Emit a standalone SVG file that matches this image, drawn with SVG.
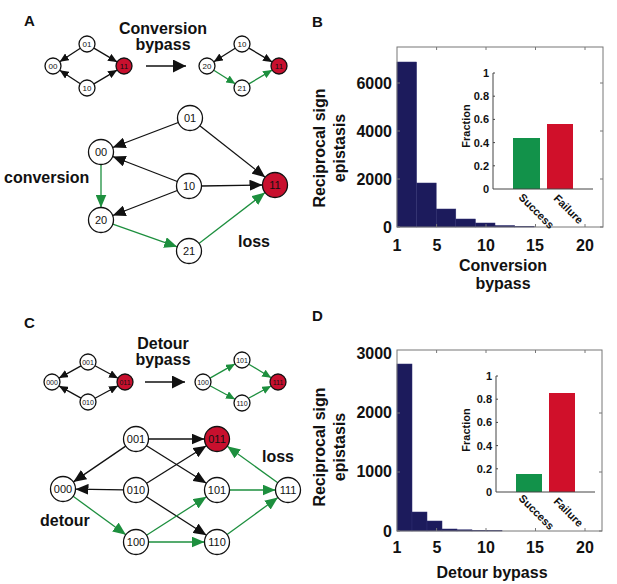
<svg xmlns="http://www.w3.org/2000/svg" width="617" height="584" viewBox="0 0 617 584">
<defs>
<style>
.node{fill:#fff;stroke:#111;stroke-width:1.3}
.red{fill:#c8102e;stroke:#111;stroke-width:1.3}
.nl{font-family:"Liberation Sans",Arial,sans-serif;font-size:11px;fill:#111;text-anchor:middle}
.ns{font-family:"Liberation Sans",Arial,sans-serif;font-size:8px;fill:#111;text-anchor:middle}
.b16{font-family:"Liberation Sans",Arial,sans-serif;font-size:16px;font-weight:bold;fill:#111}
.b15{font-family:"Liberation Sans",Arial,sans-serif;font-size:15px;font-weight:bold;fill:#111}
.b11{font-family:"Liberation Sans",Arial,sans-serif;font-size:11px;font-weight:bold;fill:#111}
.k{stroke:#111;stroke-width:1.3;fill:none}
.g{stroke:#1d8f3e;stroke-width:1.3;fill:none}
.kb{marker-end:url(#ak)}
.gb{marker-end:url(#ag)}
.ks{marker-end:url(#aks)}
.gs{marker-end:url(#ags)}
.bar{fill:#1c1b5c;stroke:#2f2f70;stroke-width:0.5}
.box{fill:none;stroke:#777;stroke-width:1}
.tick{stroke:#777;stroke-width:1}
.iax{stroke:#444;stroke-width:1;fill:none}
.mid{text-anchor:middle}
.end{text-anchor:end}
</style>
<marker id="ak" markerUnits="userSpaceOnUse" markerWidth="13" markerHeight="11" refX="13" refY="5.5" orient="auto"><path d="M0,0 L13,5.5 L0,11 z" fill="#111"/></marker>
<marker id="ag" markerUnits="userSpaceOnUse" markerWidth="13" markerHeight="11" refX="13" refY="5.5" orient="auto"><path d="M0,0 L13,5.5 L0,11 z" fill="#1d8f3e"/></marker>
<marker id="aks" markerUnits="userSpaceOnUse" markerWidth="9" markerHeight="8" refX="9" refY="4" orient="auto"><path d="M0,0 L9,4 L0,8 z" fill="#111"/></marker>
<marker id="ags" markerUnits="userSpaceOnUse" markerWidth="9" markerHeight="8" refX="9" refY="4" orient="auto"><path d="M0,0 L9,4 L0,8 z" fill="#1d8f3e"/></marker>
<marker id="abig" markerUnits="userSpaceOnUse" markerWidth="13" markerHeight="13" refX="13" refY="6.5" orient="auto"><path d="M0,0 L13,6.5 L0,13 z" fill="#111"/></marker>
</defs>
<rect width="617" height="584" fill="#fff"/>

<!-- Panel labels -->
<text class="b15" x="24" y="26">A</text>
<text class="b15" x="312" y="27">B</text>
<text class="b15" x="24" y="328">C</text>
<text class="b15" x="312" y="321">D</text>

<!-- ============ Panel A ============ -->
<g id="connectors-A">
<line class="k ks" x1="80.3" y1="48.3" x2="59.7" y2="61.7"/>
<line class="k ks" x1="80.3" y1="83.7" x2="59.7" y2="70.3"/>
<line class="k ks" x1="93.9" y1="48.1" x2="117.1" y2="61.9"/>
<line class="k ks" x1="93.9" y1="83.9" x2="117.1" y2="70.1"/>
<line class="k" style="stroke-width:1.6;marker-end:url(#abig)" x1="146" y1="66" x2="186" y2="66"/>
<line class="k ks" x1="235.2" y1="48.3" x2="213.8" y2="61.7"/>
<line class="k ks" x1="248.9" y1="48.1" x2="272.1" y2="61.9"/>
<line class="g gs" x1="213.8" y1="70.3" x2="235.2" y2="83.7"/>
<line class="g gs" x1="248.9" y1="83.9" x2="272.1" y2="70.1"/>
<line class="k kb" x1="178.3" y1="122.5" x2="112.7" y2="147.5"/>
<line class="k kb" x1="199.8" y1="125.7" x2="265.2" y2="177.3"/>
<line class="k kb" x1="177.3" y1="181.5" x2="112.7" y2="156.5"/>
<line class="k kb" x1="177.3" y1="190.5" x2="112.7" y2="215.5"/>
<line class="k kb" x1="201.5" y1="186" x2="262.5" y2="185"/>
<line class="g gb" x1="101" y1="164.5" x2="101" y2="207.5"/>
<line class="g gb" x1="112.8" y1="224.2" x2="177.2" y2="246.8"/>
<line class="g gb" x1="198.9" y1="243.4" x2="265.1" y2="192.6"/>
</g>

<text class="b16 mid" x="163" y="34">Conversion</text>
<text class="b16 mid" x="163" y="50">bypass</text>

<g id="a-s00"><circle class="node" cx="53" cy="66" r="8"/><text class="ns" x="53" y="69">00</text></g>
<g id="a-s01"><circle class="node" cx="87" cy="44" r="8"/><text class="ns" x="87" y="47">01</text></g>
<g id="a-s10"><circle class="node" cx="87" cy="88" r="8"/><text class="ns" x="87" y="91">10</text></g>
<g id="a-s11"><circle class="red" cx="124" cy="66" r="8"/><text class="ns" x="124" y="69">11</text></g>
<g id="a-r20"><circle class="node" cx="207" cy="66" r="8"/><text class="ns" x="207" y="69">20</text></g>
<g id="a-r10"><circle class="node" cx="242" cy="44" r="8"/><text class="ns" x="242" y="47">10</text></g>
<g id="a-r21"><circle class="node" cx="242" cy="88" r="8"/><text class="ns" x="242" y="91">21</text></g>
<g id="a-r11"><circle class="red" cx="279" cy="66" r="8"/><text class="ns" x="279" y="69">11</text></g>

<g id="a-01"><circle class="node" cx="190" cy="118" r="12.5"/><text class="nl" x="190" y="122">01</text></g>
<g id="a-00"><circle class="node" cx="101" cy="152" r="12.5"/><text class="nl" x="101" y="156">00</text></g>
<g id="a-10"><circle class="node" cx="189" cy="186" r="12.5"/><text class="nl" x="189" y="190">10</text></g>
<g id="a-11"><circle class="red" cx="275" cy="185" r="12.5"/><text class="nl" x="275" y="189">11</text></g>
<g id="a-20"><circle class="node" cx="101" cy="220" r="12.5"/><text class="nl" x="101" y="224">20</text></g>
<g id="a-21"><circle class="node" cx="189" cy="251" r="12.5"/><text class="nl" x="189" y="255">21</text></g>
<text class="b16" x="4" y="183">conversion</text>
<text class="b16" x="238" y="247">loss</text>

<!-- ============ Panel C ============ -->
<g id="connectors-C">
<line class="k ks" x1="81.0" y1="365.9" x2="59.0" y2="378.1"/>
<line class="k ks" x1="81.0" y1="398.1" x2="59.0" y2="385.9"/>
<line class="k ks" x1="95.0" y1="365.8" x2="118.0" y2="378.2"/>
<line class="k ks" x1="95.0" y1="398.2" x2="118.0" y2="385.8"/>
<line class="k" style="stroke-width:1.6;marker-end:url(#abig)" x1="145" y1="382" x2="185" y2="382"/>
<line class="g gs" x1="210.0" y1="378.1" x2="235.0" y2="363.9"/>
<line class="g gs" x1="210.0" y1="385.8" x2="235.0" y2="399.2"/>
<line class="g gs" x1="248.8" y1="364.2" x2="271.2" y2="377.8"/>
<line class="g gs" x1="248.9" y1="398.0" x2="271.1" y2="386.0"/>
<line class="k kb" x1="125.7" y1="446.1" x2="73.3" y2="481.9"/>
<line class="k kb" x1="123.5" y1="489.8" x2="75.5" y2="489.2"/>
<line class="k kb" x1="148.5" y1="439" x2="204.5" y2="439"/>
<line class="k kb" x1="146.6" y1="445.7" x2="206.4" y2="483.3"/>
<line class="k kb" x1="146.6" y1="483.3" x2="206.4" y2="445.7"/>
<line class="k kb" x1="146.5" y1="496.8" x2="206.5" y2="535.2"/>
<line class="g gb" x1="73.1" y1="496.3" x2="125.9" y2="534.7"/>
<line class="g gb" x1="146.5" y1="535.2" x2="206.5" y2="496.8"/>
<line class="g gb" x1="148.5" y1="542" x2="204.5" y2="542"/>
<line class="g gb" x1="229.5" y1="490" x2="275.5" y2="490"/>
<line class="g gb" x1="227.1" y1="534.6" x2="277.9" y2="497.4"/>
<line class="g gb" x1="277.8" y1="482.7" x2="227.2" y2="446.3"/>
</g>

<text class="b16 mid" x="163" y="349">Detour</text>
<text class="b16 mid" x="163" y="365">bypass</text>

<g id="c-s000"><circle class="node" cx="52" cy="382" r="8"/><text class="ns" x="52" y="385" style="font-size:7px">000</text></g>
<g id="c-s001"><circle class="node" cx="88" cy="362" r="8"/><text class="ns" x="88" y="365" style="font-size:7px">001</text></g>
<g id="c-s010"><circle class="node" cx="88" cy="402" r="8"/><text class="ns" x="88" y="405" style="font-size:7px">010</text></g>
<g id="c-s011"><circle class="red" cx="125" cy="382" r="8"/><text class="ns" x="125" y="385" style="font-size:7px">011</text></g>
<g id="c-r100"><circle class="node" cx="203" cy="382" r="8"/><text class="ns" x="203" y="385" style="font-size:7px">100</text></g>
<g id="c-r101"><circle class="node" cx="242" cy="360" r="8"/><text class="ns" x="242" y="363" style="font-size:7px">101</text></g>
<g id="c-r110"><circle class="node" cx="242" cy="403" r="8"/><text class="ns" x="242" y="406" style="font-size:7px">110</text></g>
<g id="c-r111"><circle class="red" cx="278" cy="382" r="8"/><text class="ns" x="278" y="385" style="font-size:7px">111</text></g>

<g id="c-001"><circle class="node" cx="136" cy="439" r="12.5"/><text class="nl" x="136" y="443">001</text></g>
<g id="c-011"><circle class="red" cx="217" cy="439" r="12.5"/><text class="nl" x="217" y="443">011</text></g>
<g id="c-000"><circle class="node" cx="63" cy="489" r="12.5"/><text class="nl" x="63" y="493">000</text></g>
<g id="c-010"><circle class="node" cx="136" cy="490" r="12.5"/><text class="nl" x="136" y="494">010</text></g>
<g id="c-101"><circle class="node" cx="217" cy="490" r="12.5"/><text class="nl" x="217" y="494">101</text></g>
<g id="c-111"><circle class="node" cx="288" cy="490" r="12.5"/><text class="nl" x="288" y="494">111</text></g>
<g id="c-100"><circle class="node" cx="136" cy="542" r="12.5"/><text class="nl" x="136" y="546">100</text></g>
<g id="c-110"><circle class="node" cx="217" cy="542" r="12.5"/><text class="nl" x="217" y="546">110</text></g>
<text class="b16" x="262" y="462">loss</text>
<text class="b16" x="40" y="526">detour</text>

<!-- ============ Panel B ============ -->
<g id="plot-B">
<rect class="bar" x="397" y="62" width="19.6" height="165"/>
<rect class="bar" x="416.6" y="183" width="19.6" height="44"/>
<rect class="bar" x="436.2" y="209" width="19.6" height="18"/>
<rect class="bar" x="455.8" y="219" width="19.6" height="8"/>
<rect class="bar" x="475.4" y="223" width="19.6" height="4"/>
<rect class="bar" x="495" y="225.5" width="19.6" height="1.5"/>
<rect class="bar" x="514.6" y="226.3" width="19.6" height="0.7"/>
<rect x="397" y="47" width="206" height="180" class="box"/>
<path class="tick" d="M397,227h3M397,179h3M397,131h3M397,83h3M603,227h-3M603,179h-3M603,131h-3M603,83h-3M436.6,227v-3M486,227v-3M535.5,227v-3M585,227v-3M436.6,47v3M486,47v3M535.5,47v3M585,47v3"/>
<text class="b16 end" x="392" y="233">0</text>
<text class="b16 end" x="392" y="185">2000</text>
<text class="b16 end" x="392" y="137">4000</text>
<text class="b16 end" x="392" y="89">6000</text>
<text class="b16 mid" x="397" y="251">1</text>
<text class="b16 mid" x="437" y="251">5</text>
<text class="b16 mid" x="486" y="251">10</text>
<text class="b16 mid" x="535" y="251">15</text>
<text class="b16 mid" x="585" y="251">20</text>
<text class="b16 mid" x="503" y="271">Conversion</text>
<text class="b16 mid" x="503" y="289">bypass</text>
<text class="b16 mid" transform="translate(325,148) rotate(-90)">Reciprocal sign</text>
<text class="b16 mid" transform="translate(345,148) rotate(-90)">epistasis</text>
<rect x="513" y="138" width="27" height="51" fill="#12924a"/>
<rect x="547" y="124" width="26" height="65" fill="#d0102a"/>
<path class="iax" d="M493,73V189H593"/>
<path class="iax" d="M493,165.8h2M493,142.6h2M493,119.4h2M493,96.2h2M493,73h2"/>
<text class="b11 end" x="489" y="193">0</text>
<text class="b11 end" x="489" y="170">0.2</text>
<text class="b11 end" x="489" y="147">0.4</text>
<text class="b11 end" x="489" y="123">0.6</text>
<text class="b11 end" x="489" y="100">0.8</text>
<text class="b11 end" x="489" y="77">1</text>
<text class="b11 mid" transform="translate(470,126) rotate(-90)">Fraction</text>
<text class="b11" transform="translate(518,198) rotate(45)">Success</text>
<text class="b11" transform="translate(553,199) rotate(45)">Failure</text>
</g>

<!-- ============ Panel D ============ -->
<g id="plot-D">
<rect class="bar" x="397" y="364" width="15" height="167"/>
<rect class="bar" x="412" y="512" width="15" height="19"/>
<rect class="bar" x="427" y="521" width="15" height="10"/>
<rect class="bar" x="442" y="529" width="15" height="2"/>
<rect class="bar" x="457" y="529.8" width="15" height="1.2"/>
<rect class="bar" x="472" y="530.3" width="15" height="0.7"/>
<rect class="bar" x="487" y="530.5" width="15" height="0.5"/>
<rect x="397" y="350" width="205" height="181" class="box"/>
<path class="tick" d="M397,531h3M397,472h3M397,413h3M602,531h-3M602,472h-3M602,413h-3M436.6,531v-3M486,531v-3M535.5,531v-3M585,531v-3M436.6,350v3M486,350v3M535.5,350v3M585,350v3"/>
<text class="b16 end" x="392" y="537">0</text>
<text class="b16 end" x="392" y="477">1000</text>
<text class="b16 end" x="392" y="418">2000</text>
<text class="b16 end" x="392" y="359">3000</text>
<text class="b16 mid" x="397" y="553">1</text>
<text class="b16 mid" x="437" y="553">5</text>
<text class="b16 mid" x="486" y="553">10</text>
<text class="b16 mid" x="535" y="553">15</text>
<text class="b16 mid" x="585" y="553">20</text>
<text class="b16 mid" x="492" y="578">Detour bypass</text>
<text class="b16 mid" transform="translate(325,447) rotate(-90)">Reciprocal sign</text>
<text class="b16 mid" transform="translate(345,447) rotate(-90)">epistasis</text>
<rect x="516" y="474" width="26" height="18" fill="#12924a"/>
<rect x="549" y="393" width="26" height="99" fill="#d0102a"/>
<path class="iax" d="M496,376V492H595"/>
<path class="iax" d="M496,468.8h2M496,445.6h2M496,422.4h2M496,399.2h2M496,376h2"/>
<text class="b11 end" x="492" y="496">0</text>
<text class="b11 end" x="492" y="473">0.2</text>
<text class="b11 end" x="492" y="450">0.4</text>
<text class="b11 end" x="492" y="426">0.6</text>
<text class="b11 end" x="492" y="403">0.8</text>
<text class="b11 end" x="492" y="380">1</text>
<text class="b11 mid" transform="translate(470,430) rotate(-90)">Fraction</text>
<text class="b11" transform="translate(518,499) rotate(45)">Success</text>
<text class="b11" transform="translate(553,502) rotate(45)">Failure</text>
</g>
</svg>
